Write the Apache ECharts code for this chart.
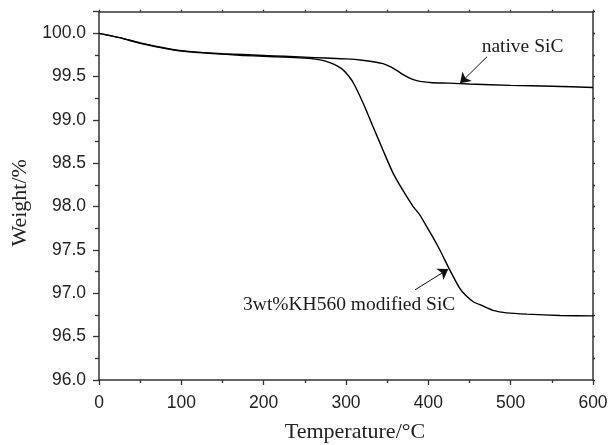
<!DOCTYPE html>
<html>
<head>
<meta charset="utf-8">
<script src="https://cdn.jsdelivr.net/npm/echarts@6/dist/echarts.min.js"></script>
<style>
  html, body { margin: 0; padding: 0; background: #fff; }
  #chart { width: 610px; height: 445px; }
</style>
</head>
<body>
<div id="chart"></div>
<script>
// ---- Data (temperature in °C, weight in %) ----
const nativeT = [0, 25, 50, 75, 100, 125, 150, 175, 200, 225, 250, 275, 300, 320, 335, 345, 355, 362, 370, 378, 386, 395, 405, 425, 450, 500, 550, 600];
const nativeW = [100.00, 99.95, 99.89, 99.84, 99.80, 99.78, 99.765, 99.755, 99.745, 99.735, 99.725, 99.715, 99.705, 99.69, 99.67, 99.65, 99.61, 99.57, 99.52, 99.48, 99.455, 99.44, 99.43, 99.425, 99.415, 99.40, 99.39, 99.375];

const modT = [0, 25, 50, 75, 100, 125, 150, 175, 200, 225, 250, 265, 275, 285, 295, 303, 310, 321, 333, 345, 357, 369, 381, 390, 398, 406, 414, 426, 438, 445, 455, 465, 480, 495, 520, 560, 600];
const modW = [100.00, 99.95, 99.885, 99.835, 99.795, 99.775, 99.76, 99.745, 99.735, 99.725, 99.715, 99.70, 99.68, 99.645, 99.59, 99.51, 99.41, 99.19, 98.92, 98.65, 98.39, 98.19, 98.01, 97.90, 97.77, 97.64, 97.50, 97.27, 97.06, 96.98, 96.90, 96.86, 96.80, 96.775, 96.76, 96.745, 96.74];

const xTitle = 'Temperature/°C';
const yTitle = 'Weight/%';

// annotation texts and anchors (data coordinates)
const nativeLabel = 'native SiC';
const nativeLabelAt = [514.4, 99.845];
const nativeArrow = [[471.3, 99.73], [438.5, 99.423]];
const modLabel = '3wt%KH560 modified SiC';
const modLabelAt = [303.9, 96.865];
const modArrow = [[383.8, 97.04], [424.3, 97.28]];

const pairs = (xs, ys) => xs.map((x, i) => [x, ys[i]]);

const chart = echarts.init(document.getElementById('chart'), null, { renderer: 'canvas' });

const axisColor = '#333';
const serif = 'Liberation Serif';
const sans = 'Liberation Sans';

const annotationText = {
  show: true,
  position: 'inside',
  formatter: '{b}',
  fontFamily: serif,
  fontSize: 19.5,
  color: '#1a1a1a'
};

const arrowLine = {
  silent: true,
  symbol: ['none', 'arrow'],
  symbolSize: 10,
  lineStyle: { color: '#111', width: 1, type: 'solid' },
  label: { show: false },
  emphasis: { disabled: true }
};

chart.setOption({
  animation: false,
  backgroundColor: '#fff',
  grid: { left: 99, right: 17, top: 11.67, bottom: 65, outerBoundsMode: 'none', containLabel: false },
  xAxis: [
    {
      type: 'value', position: 'bottom', min: 0, max: 600, interval: 100,
      name: xTitle, nameLocation: 'middle', nameGap: 41,
      nameTextStyle: { fontFamily: serif, fontSize: 22, color: '#222', padding: [0, 0, 0, 18] },
      axisLine: { show: true, onZero: false, lineStyle: { color: axisColor, width: 1.5 } },
      axisTick: { show: true, inside: false, length: 5, lineStyle: { color: axisColor, width: 1.3 } },
      minorTick: { show: true, splitNumber: 2, length: 3, lineStyle: { color: axisColor, width: 1.3 } },
      axisLabel: { show: true, margin: 14, fontFamily: sans, fontSize: 17.5, color: '#222' },
      splitLine: { show: false }, minorSplitLine: { show: false }
    },
    {
      type: 'value', position: 'top', min: 0, max: 600, interval: 50,
      axisLine: { show: true, onZero: false, lineStyle: { color: axisColor, width: 1.5 } },
      axisTick: { show: true, inside: false, length: 2, lineStyle: { color: axisColor, width: 1.3 } },
      axisLabel: { show: false }, splitLine: { show: false }
    }
  ],
  yAxis: [
    {
      type: 'value', position: 'left', min: 96, max: 100.25, interval: 0.5,
      name: yTitle, nameLocation: 'middle', nameGap: 66, nameRotate: 90,
      nameTextStyle: { fontFamily: serif, fontSize: 22, color: '#222', padding: [0, 14, 0, 0] },
      axisLine: { show: true, onZero: false, lineStyle: { color: axisColor, width: 1.5 } },
      axisTick: { show: true, inside: false, length: 6, lineStyle: { color: axisColor, width: 1.3 } },
      minorTick: { show: true, splitNumber: 2, length: 4, lineStyle: { color: axisColor, width: 1.3 } },
      axisLabel: {
        show: true, margin: 13, fontFamily: sans, fontSize: 17.5, color: '#222',
        showMaxLabel: false,
        formatter: v => (Math.abs(v * 2 - Math.round(v * 2)) < 1e-9 ? v.toFixed(1) : '')
      },
      splitLine: { show: false }, minorSplitLine: { show: false }
    },
    {
      type: 'value', position: 'right', min: 96, max: 100.25, interval: 0.25,
      axisLine: { show: true, onZero: false, lineStyle: { color: axisColor, width: 1.5 } },
      axisTick: { show: true, inside: false, length: 2, lineStyle: { color: axisColor, width: 1.3 } },
      axisLabel: { show: false }, splitLine: { show: false }
    }
  ],
  series: [
    {
      name: 'native SiC', type: 'line', xAxisIndex: 0, yAxisIndex: 0,
      data: pairs(nativeT, nativeW),
      showSymbol: false, smooth: 0.2,
      lineStyle: { color: '#000', width: 1.4 },
      markLine: Object.assign({}, arrowLine, {
        data: [[{ coord: nativeArrow[0] }, { coord: nativeArrow[1] }]]
      }),
      markPoint: {
        silent: true, symbol: 'circle', symbolSize: 0,
        label: annotationText,
        data: [{ name: nativeLabel, coord: nativeLabelAt }]
      }
    },
    {
      name: '3wt%KH560 modified SiC', type: 'line', xAxisIndex: 0, yAxisIndex: 0,
      data: pairs(modT, modW),
      showSymbol: false, smooth: 0.2,
      lineStyle: { color: '#000', width: 1.4 },
      markLine: Object.assign({}, arrowLine, {
        data: [[{ coord: modArrow[0] }, { coord: modArrow[1] }]]
      }),
      markPoint: {
        silent: true, symbol: 'circle', symbolSize: 0,
        label: annotationText,
        data: [{ name: modLabel, coord: modLabelAt }]
      }
    }
  ]
});
</script>
</body>
</html>
